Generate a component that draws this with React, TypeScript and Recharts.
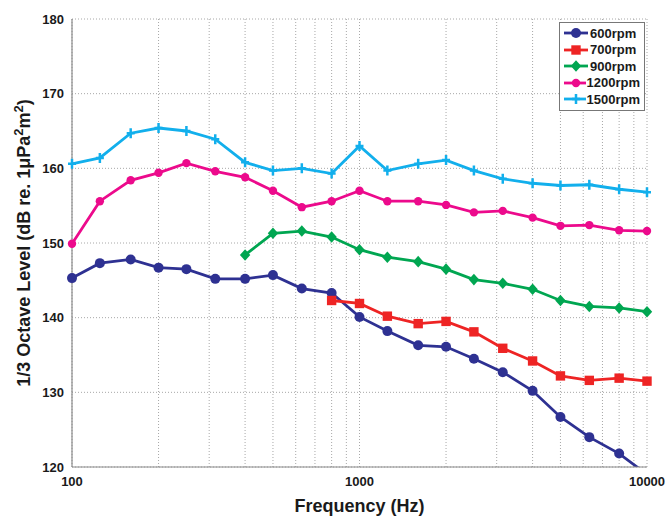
import { FC } from "react";
import {
  LineChart,
  Line,
  XAxis,
  YAxis,
  CartesianGrid,
  Legend,
  Label,
} from "recharts";

// 1/3 octave band centre frequencies (Hz)
const bands = [
  100, 125, 160, 200, 250, 315, 400, 500, 630, 800, 1000, 1250, 1600, 2000,
  2500, 3150, 4000, 5000, 6300, 8000, 10000,
];

const level600 = [
  145.3, 147.3, 147.8, 146.7, 146.5, 145.2, 145.2, 145.7, 143.9, 143.3, 140.1,
  138.2, 136.3, 136.1, 134.5, 132.7, 130.2, 126.7, 124.0, 121.8, 119.0,
];
// 700 rpm is measured from 800 Hz up
const level700 = [
  142.3, 141.9, 140.2, 139.2, 139.5, 138.1, 135.9, 134.2, 132.2, 131.6, 131.9,
  131.5,
];
// 900 rpm is measured from 400 Hz up
const level900 = [
  148.4, 151.3, 151.6, 150.8, 149.1, 148.1, 147.5, 146.5, 145.1, 144.6, 143.8,
  142.3, 141.5, 141.3, 140.8,
];
const level1200 = [
  149.9, 155.6, 158.4, 159.4, 160.7, 159.6, 158.8, 157.0, 154.8, 155.6, 157.0,
  155.6, 155.6, 155.1, 154.1, 154.3, 153.4, 152.3, 152.4, 151.7, 151.6,
];
const level1500 = [
  160.6, 161.4, 164.7, 165.4, 165.0, 163.9, 160.8, 159.7, 160.0, 159.3, 163.0,
  159.7, 160.6, 161.1, 159.7, 158.6, 158.0, 157.7, 157.8, 157.2, 156.8,
];

const yTicks = [120, 130, 140, 150, 160, 170, 180];
// log ticks: only the decades get a label, the rest are grid lines
const decadeTicks = [100, 1000, 10000];
const xTicks = [
  100, 200, 300, 400, 500, 600, 700, 800, 900, 1000, 2000, 3000, 4000, 5000,
  6000, 7000, 8000, 9000, 10000,
];

type Marker = "circle" | "square" | "diamond" | "dot" | "plus";

const series: { key: string; name: string; color: string; marker: Marker; data: number[] }[] = [
  { key: "r600", name: "600rpm", color: "#2E3192", marker: "circle", data: level600 },
  { key: "r700", name: "700rpm", color: "#EE2424", marker: "square", data: level700 },
  { key: "r900", name: "900rpm", color: "#00A651", marker: "diamond", data: level900 },
  { key: "r1200", name: "1200rpm", color: "#EC0A8C", marker: "dot", data: level1200 },
  { key: "r1500", name: "1500rpm", color: "#12AFEC", marker: "plus", data: level1500 },
];

// one row per band; shorter series are aligned to the top end of the band list
const table = bands.map((f, i) => {
  const row: Record<string, number | null> = { f };
  series.forEach((s) => {
    const j = i - (bands.length - s.data.length);
    row[s.key] = j >= 0 ? s.data[j] : null;
  });
  return row;
});

const MarkerShape: FC<{ cx: number; cy: number; color: string; marker: Marker }> = ({
  cx,
  cy,
  color,
  marker,
}) => {
  switch (marker) {
    case "circle":
      return <circle cx={cx} cy={cy} r={5} fill={color} />;
    case "dot":
      return <circle cx={cx} cy={cy} r={4.2} fill={color} />;
    case "square":
      return <rect x={cx - 4.7} y={cy - 4.7} width={9.4} height={9.4} fill={color} />;
    case "diamond":
      return (
        <path
          d={`M${cx},${cy - 5.8} L${cx + 5.2},${cy} L${cx},${cy + 5.8} L${cx - 5.2},${cy} Z`}
          fill={color}
        />
      );
    case "plus":
      return (
        <path
          d={`M${cx - 4},${cy} H${cx + 4} M${cx},${cy - 5} V${cy + 5}`}
          stroke={color}
          strokeWidth={2.5}
        />
      );
  }
};

const font = "'Liberation Sans', Arial, sans-serif";
const ink = "#1a1a1a";
const frame = "#8a8a8a";
const gridColor = "#a8a8a8";
const tickStyle = { fontFamily: font, fontWeight: "bold", fontSize: 13, fill: ink };

const YTitle: FC<any> = ({ viewBox }) => {
  const x = 30;
  const y = viewBox.y + viewBox.height / 2;
  return (
    <text
      x={x}
      y={y}
      transform={`rotate(-90 ${x} ${y})`}
      textAnchor="middle"
      fontFamily={font}
      fontWeight="bold"
      fontSize={18}
      fill={ink}
    >
      1/3 Octave Level (dB re. 1μPa
      <tspan dy={-7} fontSize={13}>2</tspan>
      <tspan dy={7}>m</tspan>
      <tspan dy={-7} fontSize={13}>2</tspan>
      <tspan dy={7}>)</tspan>
    </text>
  );
};

const LegendBox: FC = () => (
  <div
    style={{
      border: "1px solid #777",
      background: "#fff",
      padding: "2px 4px 2px 3px",
      fontFamily: font,
      fontWeight: "bold",
      fontSize: 13,
      color: ink,
    }}
  >
    {series.map((s) => (
      <div key={s.key} style={{ display: "flex", alignItems: "center", height: 16.5 }}>
        <svg width={26} height={12} style={{ marginRight: 1 }}>
          <line x1={1} y1={6} x2={25} y2={6} stroke={s.color} strokeWidth={2.8} />
          <MarkerShape cx={13} cy={6} color={s.color} marker={s.marker} />
        </svg>
        <span>{s.name}</span>
      </div>
    ))}
  </div>
);

const OctaveLevelChart: FC = () => {
  return (
    <div style={{ position: "absolute", left: 0, top: 0, background: "#fff" }}>
      <LineChart
        width={665}
        height={516}
        data={table}
        margin={{ top: 19, right: 18, left: 0, bottom: 0 }}
      >
        <CartesianGrid stroke={gridColor} strokeDasharray="1 2" />
        <XAxis
          dataKey="f"
          type="number"
          scale="log"
          domain={[100, 10000]}
          ticks={xTicks}
          interval={0}
          tickFormatter={(v: number) => (decadeTicks.includes(v) ? String(v) : "")}
          height={49}
          tickLine={false}
          tickMargin={4}
          axisLine={{ stroke: frame, strokeWidth: 1.2 }}
          tick={tickStyle}
        >
          <Label
            value="Frequency (Hz)"
            position="insideBottom"
            offset={4}
            style={{ fontFamily: font, fontWeight: "bold", fontSize: 18, fill: ink }}
          />
        </XAxis>
        {/* top and right edges of the box */}
        <XAxis
          xAxisId="top"
          orientation="top"
          dataKey="f"
          type="number"
          scale="log"
          domain={[100, 10000]}
          height={0}
          tick={false}
          tickLine={false}
          axisLine={{ stroke: frame, strokeWidth: 1.2 }}
        />
        <YAxis
          type="number"
          domain={[120, 180]}
          ticks={yTicks}
          interval={0}
          allowDataOverflow
          width={72}
          tickLine={false}
          axisLine={{ stroke: frame, strokeWidth: 1.2 }}
          tick={tickStyle}
        >
          <Label content={<YTitle />} />
        </YAxis>
        <YAxis
          yAxisId="right"
          orientation="right"
          type="number"
          domain={[120, 180]}
          width={0}
          tick={false}
          tickLine={false}
          axisLine={{ stroke: frame, strokeWidth: 1.2 }}
        />
        <Legend
          layout="vertical"
          align="center"
          verticalAlign="middle"
          content={<LegendBox />}
          wrapperStyle={{ top: 22, left: 559, width: 86 }}
        />
        {series.map((s) => (
          <Line
            key={s.key}
            name={s.name}
            dataKey={s.key}
            stroke={s.color}
            strokeWidth={2.8}
            isAnimationActive={false}
            dot={(p: any) =>
              p.value == null ? (
                <g key={`${s.key}-${p.index}`} />
              ) : (
                <MarkerShape
                  key={`${s.key}-${p.index}`}
                  cx={p.cx}
                  cy={p.cy}
                  color={s.color}
                  marker={s.marker}
                />
              )
            }
            activeDot={false}
          />
        ))}
      </LineChart>
    </div>
  );
};

export default OctaveLevelChart;
